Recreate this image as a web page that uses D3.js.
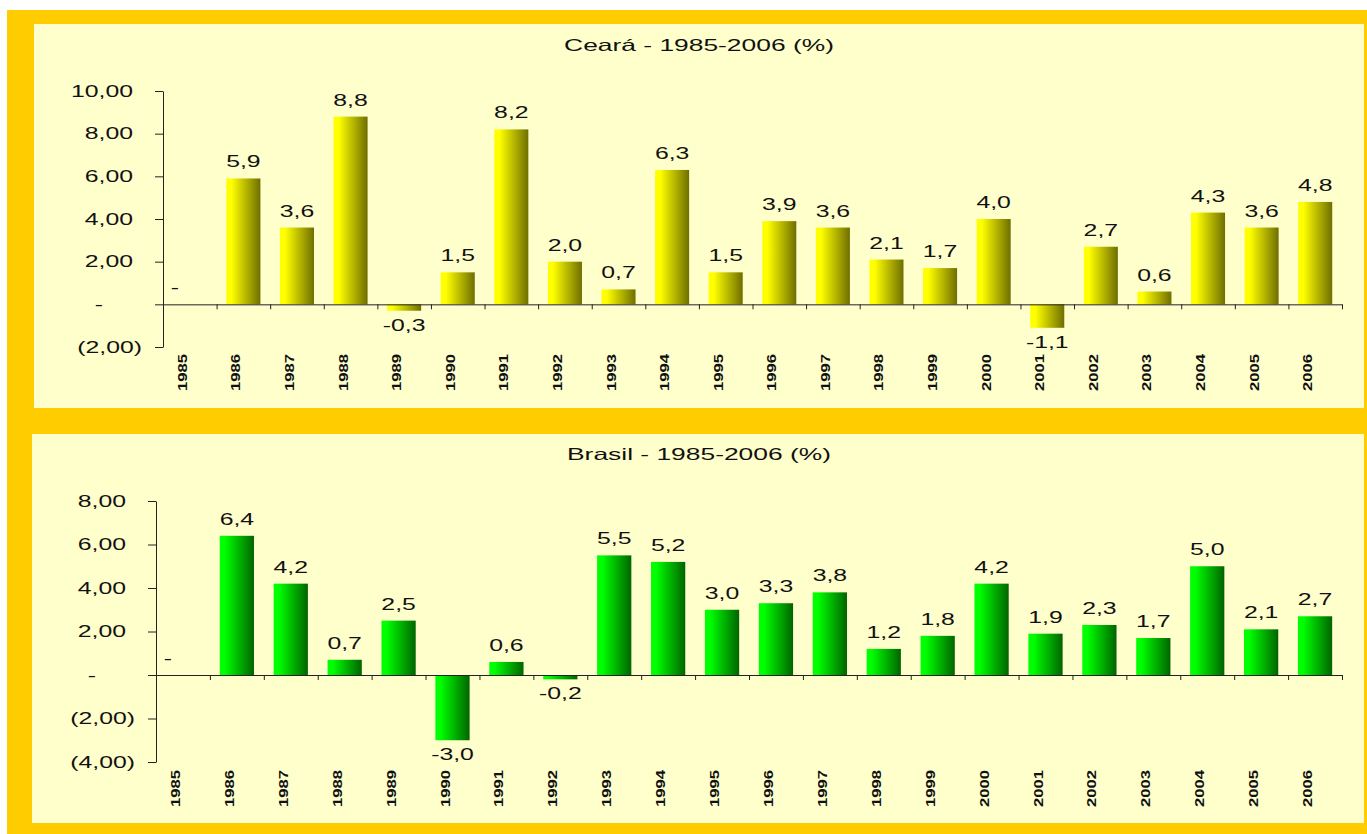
<!DOCTYPE html>
<html><head><meta charset="utf-8">
<script src="https://cdn.jsdelivr.net/npm/d3@7"></script>
<style>
html,body{margin:0;padding:0;background:#fff;}
svg{display:block;font-family:"Liberation Sans",Arial,sans-serif;}
</style></head>
<body>
<svg id="c" width="1367" height="834"></svg>
<script>
const years = ["1985","1986","1987","1988","1989","1990","1991","1992","1993","1994","1995","1996","1997","1998","1999","2000","2001","2002","2003","2004","2005","2006"];
const cearaValues = [0, 5.9, 3.6, 8.8, -0.3, 1.5, 8.2, 2.0, 0.7, 6.3, 1.5, 3.9, 3.6, 2.1, 1.7, 4.0, -1.1, 2.7, 0.6, 4.3, 3.6, 4.8];
const brasilValues = [0, 6.4, 4.2, 0.7, 2.5, -3.0, 0.6, -0.2, 5.5, 5.2, 3.0, 3.3, 3.8, 1.2, 1.8, 4.2, 1.9, 2.3, 1.7, 5.0, 2.1, 2.7];
const cearaTicks = [10, 8, 6, 4, 2, 0, -2];
const brasilTicks = [8, 6, 4, 2, 0, -2, -4];
const cearaTitle = "Ceará - 1985-2006 (%)";
const brasilTitle = "Brasil - 1985-2006 (%)";

const svg = d3.select("#c");
const SX = 1.55;

// background frames
svg.append("rect").attr("x",7).attr("y",10).attr("width",1360).attr("height",824).attr("fill","#ffcc00");
svg.append("rect").attr("x",34).attr("y",24).attr("width",1330).attr("height",384).attr("fill","#ffffcc");
svg.append("rect").attr("x",32).attr("y",434).attr("width",1332).attr("height",389).attr("fill","#ffffcc");

const defs = svg.append("defs");
function grad(id, c0, c1){
  const g = defs.append("linearGradient").attr("id",id).attr("x1","0").attr("x2","1").attr("y1","0").attr("y2","0");
  g.append("stop").attr("offset","0").attr("stop-color",c0);
  g.append("stop").attr("offset","0.15").attr("stop-color",c0);
  g.append("stop").attr("offset","1").attr("stop-color",c1);
}
grad("gy","#ffff00","#6e6e00");
grad("gg","#00ff00","#006400");

const loc = d3.formatLocale({decimal: ",", thousands: ".", grouping: [3], currency: ["", ""], minus: "-"});
const f1 = loc.format(".1f"), f2 = loc.format(".2f");
const fmtVal = v => v === 0 ? "-" : f1(v);
const fmtTick = v => v === 0 ? "-" : (v < 0 ? "(" + f2(-v) + ")" : f2(v));

function chart(cfg){
  const g = svg.append("g");
  const x = d3.scaleBand().domain(years).range([cfg.x0, cfg.x1]).paddingInner(0.365).paddingOuter(0.1825);
  const y = d3.scaleLinear().domain(cfg.domain).range([cfg.yBottom, cfg.yTop]);
  const xb = d3.scaleLinear().domain([0, years.length]).range([cfg.x0, cfg.x1]);

  // title
  g.append("text").attr("transform", `translate(${(34+1364)/2},${cfg.titleY}) scale(1.6,1)`)
    .attr("text-anchor","middle").attr("font-size",16.5).attr("fill","#111").text(cfg.title);

  // bars
  g.selectAll("rect.bar").data(cfg.values.map((v,i)=>({v, yr: years[i]}))).enter().append("rect")
    .attr("class","bar")
    .attr("x", d => x(d.yr)).attr("width", x.bandwidth())
    .attr("y", d => y(Math.max(0, d.v))).attr("height", d => Math.abs(y(d.v) - y(0)))
    .attr("fill", `url(#${cfg.grad})`);

  // y axis
  const ya = g.append("g").attr("transform", `translate(${cfg.x0},0)`)
    .call(d3.axisLeft(y).tickValues(cfg.ticks).tickFormat(fmtTick).tickSize(8).tickSizeOuter(0));
  ya.select(".domain").attr("stroke","#222");
  ya.selectAll(".tick line").attr("stroke","#222");
  ya.selectAll(".tick text")
    .attr("font-size",16).attr("fill","#111").attr("font-family","Liberation Sans, Arial, sans-serif")
    .attr("transform", `scale(${SX},1)`)
    .attr("x", d => d === 0 ? -60/SX : (d < 0 ? -21/SX : -30/SX));

  // zero x axis with boundary ticks
  const xa = g.append("g").attr("transform", `translate(0,${y(0)})`)
    .call(d3.axisBottom(xb).tickValues(d3.range(years.length + 1)).tickFormat("").tickSize(5).tickSizeOuter(0));
  xa.select(".domain").attr("stroke","#222");
  xa.selectAll(".tick line").attr("stroke","#222");

  // category labels (rotated, reading bottom to top)
  const xl = g.append("g").attr("transform", `translate(0,${cfg.labelY})`)
    .call(d3.axisBottom(x).tickSize(0));
  xl.select(".domain").remove();
  xl.selectAll(".tick text")
    .attr("y", 0).attr("dy", 0).attr("x", 0)
    .attr("transform", "matrix(0,-1.28,1,0,-3,0)")
    .attr("text-anchor","end").attr("font-size",13).attr("font-weight","bold").attr("fill","#111")
    .attr("font-family","Liberation Sans, Arial, sans-serif");

  // value labels
  g.selectAll("text.val").data(cfg.values.map((v,i)=>({v, yr: years[i]}))).enter().append("text")
    .attr("class","val")
    .attr("transform", d => {
      const cx = x(d.yr) + x.bandwidth()/2 + (d.v === 0 ? -15 : 0);
      const yy = d.v < 0 ? y(d.v) + 20 : y(d.v) - 11;
      return `translate(${cx},${yy}) scale(${SX},1)`;
    })
    .attr("text-anchor","middle").attr("font-size",16).attr("fill","#111")
    .text(d => fmtVal(d.v));
}

chart({title: cearaTitle, titleY: 51, values: cearaValues, ticks: cearaTicks, domain: [-2, 10],
  x0: 163, x1: 1342, yTop: 91, yBottom: 347, labelY: 354, grad: "gy"});
chart({title: brasilTitle, titleY: 460, values: brasilValues, ticks: brasilTicks, domain: [-4, 8],
  x0: 156, x1: 1342, yTop: 501, yBottom: 762, labelY: 770, grad: "gg"});
</script>
</body></html>
